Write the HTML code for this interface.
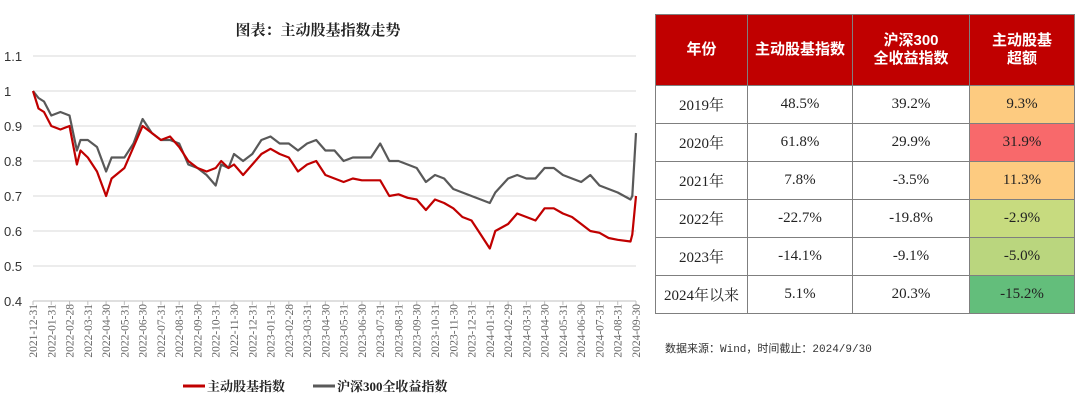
<!DOCTYPE html>
<html><head><meta charset="utf-8">
<style>
body{margin:0;width:1080px;height:403px;background:#fff;overflow:hidden;font-family:"Liberation Serif","Noto Serif CJK SC",serif;}
#chart{position:absolute;left:0;top:0;}
table{position:absolute;left:655px;top:14px;border-collapse:collapse;width:420px;font-family:"Liberation Serif","Noto Serif CJK SC",serif;}
td,th{border:1px solid #7f7f7f;text-align:center;font-size:15px;color:#222;padding:0;}
th{background:#c00000;color:#fff;font-weight:bold;height:70px;line-height:18px;font-family:"Liberation Sans","Noto Sans CJK SC",sans-serif;font-size:15px;}
td{height:37px;}
#src{position:absolute;left:665px;top:340px;font-size:11px;color:#333;font-family:"Liberation Mono","Noto Sans CJK SC",monospace;}
</style></head><body>
<svg id="chart" width="650" height="403"></svg>
<table>
<tr><th style="width:91px">年份</th><th style="width:104px">主动股基指数</th><th style="width:116px">沪深300<br>全收益指数</th><th>主动股基<br>超额</th></tr>
<tr><td>2019年</td><td>48.5%</td><td>39.2%</td><td style="background:#fdcb80">9.3%</td></tr>
<tr><td>2020年</td><td>61.8%</td><td>29.9%</td><td style="background:#f8696b">31.9%</td></tr>
<tr><td>2021年</td><td>7.8%</td><td>-3.5%</td><td style="background:#fdcb80">11.3%</td></tr>
<tr><td>2022年</td><td>-22.7%</td><td>-19.8%</td><td style="background:#c7db7f">-2.9%</td></tr>
<tr><td>2023年</td><td>-14.1%</td><td>-9.1%</td><td style="background:#bad67e">-5.0%</td></tr>
<tr><td>2024年以来</td><td>5.1%</td><td>20.3%</td><td style="background:#63be7b">-15.2%</td></tr>
</table>
<div id="src">数据来源：Wind，时间截止：2024/9/30</div>
<script>
const tickLabels=["2021-12-31","2022-01-31","2022-02-28","2022-03-31","2022-04-30","2022-05-31","2022-06-30","2022-07-31","2022-08-31","2022-09-30","2022-10-31","2022-11-30","2022-12-31","2023-01-31","2023-02-28","2023-03-31","2023-04-30","2023-05-31","2023-06-30","2023-07-31","2023-08-31","2023-09-30","2023-10-31","2023-11-30","2023-12-31","2024-01-31","2024-02-29","2024-03-31","2024-04-30","2024-05-31","2024-06-30","2024-07-31","2024-08-31","2024-09-30"];
const yTicks=[0.4,0.5,0.6,0.7,0.8,0.9,1,1.1];
const monthIdx=[0,0.3,0.6,1,1.5,2,2.4,2.6,3,3.5,4,4.3,5,5.5,6,6.5,7,7.5,8,8.5,9,9.5,10,10.3,10.7,11,11.5,12,12.5,13,13.5,14,14.5,15,15.5,16,16.5,17,17.5,18,18.5,19,19.5,20,20.5,21,21.5,22,22.5,23,23.5,24,24.5,25,25.3,26,26.5,27,27.5,28,28.5,29,29.5,30,30.5,31,31.5,32,32.7,32.8,33];
const activeFund=[1.0,0.95,0.94,0.9,0.89,0.9,0.79,0.83,0.81,0.77,0.70,0.75,0.78,0.84,0.9,0.88,0.86,0.87,0.84,0.80,0.78,0.77,0.78,0.80,0.78,0.79,0.76,0.79,0.82,0.835,0.82,0.81,0.77,0.79,0.80,0.76,0.75,0.74,0.75,0.745,0.745,0.745,0.70,0.705,0.695,0.69,0.66,0.69,0.68,0.665,0.64,0.63,0.59,0.55,0.60,0.62,0.65,0.64,0.63,0.665,0.665,0.65,0.64,0.62,0.60,0.595,0.58,0.575,0.57,0.59,0.70];
const hs300=[1.0,0.98,0.97,0.93,0.94,0.93,0.83,0.86,0.86,0.84,0.77,0.81,0.81,0.85,0.92,0.88,0.86,0.86,0.85,0.79,0.78,0.76,0.73,0.79,0.78,0.82,0.80,0.82,0.86,0.87,0.85,0.85,0.83,0.85,0.86,0.83,0.83,0.80,0.81,0.81,0.81,0.85,0.80,0.80,0.79,0.78,0.74,0.76,0.75,0.72,0.71,0.70,0.69,0.68,0.71,0.75,0.76,0.75,0.75,0.78,0.78,0.76,0.75,0.74,0.76,0.73,0.72,0.71,0.69,0.70,0.88];
const NS="http://www.w3.org/2000/svg";
const svg=document.getElementById('chart');
const L=33,R=636,T=56,B=301;
const xS=m=>L+m*(R-L)/(tickLabels.length-1);
const yS=v=>B-(v-0.4)/(0.7)*(B-T);
function mk(tag,attrs,parent){const e=document.createElementNS(NS,tag);for(const k in attrs)e.setAttribute(k,attrs[k]);(parent||svg).appendChild(e);return e;}
const title=mk('text',{x:318,y:35,'text-anchor':'middle','font-size':'15','font-weight':'bold',fill:'#222'});


title.textContent='图表：主动股基指数走势';
yTicks.forEach(v=>{
 if(v>0.4){const g=mk('line',{x1:L,x2:R,y1:yS(v),y2:yS(v),stroke:'#d9d9d9','stroke-width':1});
 
 }
 const t=mk('text',{x:4,y:yS(v)+5,'font-size':'13',fill:'#333','font-family':'Liberation Sans, sans-serif'});
 
 
 t.textContent=String(v);
});
const ax=mk('line',{x1:L,x2:R,y1:B,y2:B,stroke:'#bfbfbf'});


tickLabels.forEach((s,i)=>{
 const x=xS(i);
 const tk=mk('line',{x1:x,x2:x,y1:B,y2:B+4,stroke:'#bfbfbf'});
 
 
 const t=mk('text',{x:0,y:0,'font-size':'11.5',fill:'#666','text-anchor':'end',transform:`translate(${x+4},${B+3}) rotate(-90)`});
 
 
 t.textContent=s;
});
function line(vals,color,name){
 const d=vals.map((v,i)=>(i?'L':'M')+xS(monthIdx[i]).toFixed(1)+','+yS(v).toFixed(1)).join('');
 const p=mk('path',{d,fill:'none',stroke:color,'stroke-width':2.2,'stroke-linejoin':'round'});
 
 
}
line(hs300,'#595959','hs300-line');
line(activeFund,'#c00000','active-fund-line');
function legend(x,color,label,name){
 const g=mk('g',{});
 
 
 mk('line',{x1:x,x2:x+22,y1:386,y2:386,stroke:color,'stroke-width':3},g);
 const t=mk('text',{x:x+24,y:391,'font-size':'13','font-weight':'bold',fill:'#222'},g);
 t.textContent=label;
}
legend(183,'#c00000','主动股基指数','legend-active-fund');
legend(313,'#595959','沪深300全收益指数','legend-hs300');
</script>
</body></html>
